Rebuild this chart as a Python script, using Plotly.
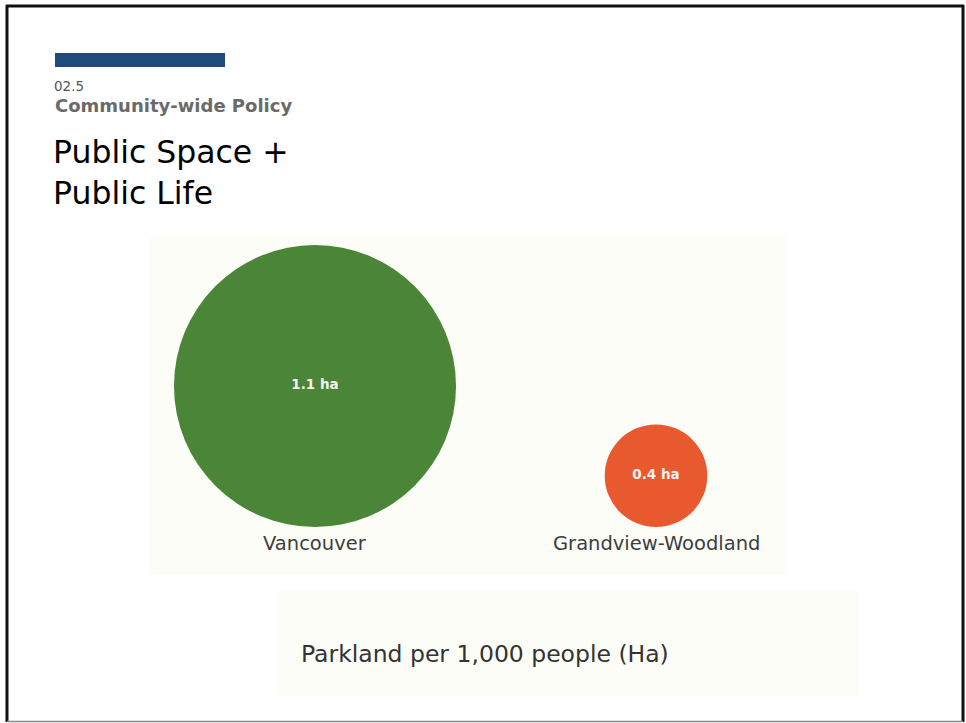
import plotly.graph_objects as go

# ---- data ----
places = ["Vancouver", "Grandview-Woodland"]
parkland_ha = [1.1, 0.4]
value_labels = ["1.1 ha", "0.4 ha"]
bubble_colors = ["#4b8538", "#e8592f"]

section_no = "02.5"
section_name = "Community-wide Policy"
title_lines = ["Public Space +", "Public Life"]
caption = "Parkland per 1,000 people (Ha)"

W, H = 966, 723
S = 256.4          # pixels of diameter per ha
BASE = 527         # pixel row of the bubble baseline
FONT = "DejaVu Sans"


def px(x):
    return x / W


def py(y):
    return 1 - y / H


fig = go.Figure()

fig.add_trace(go.Scatter(
    x=places,
    y=[v / 2 for v in parkland_ha],
    mode="markers+text",
    text=value_labels,
    textposition="middle center",
    textfont=dict(family=FONT, size=13.5, color="#f4f4ee", weight="bold"),
    marker=dict(size=[v * S for v in parkland_ha], sizemode="diameter",
                color=bubble_colors, line=dict(width=0), opacity=1),
    hoverinfo="skip",
    showlegend=False,
    cliponaxis=False,
))

for p in places:
    fig.add_annotation(x=p, y=0, xref="x", yref="y", text=p, showarrow=False,
                       yanchor="top", yshift=-3,
                       font=dict(family=FONT, size=19.5, color="#3d3d3d"))

shapes = [
    # chart background boxes
    dict(type="rect", xref="paper", yref="paper", x0=px(150), x1=px(785), y0=py(575), y1=py(235),
         fillcolor="#fdfdf8", line=dict(width=0), layer="below"),
    dict(type="rect", xref="paper", yref="paper", x0=px(279), x1=px(858), y0=py(696), y1=py(591),
         fillcolor="#fdfdf8", line=dict(width=0), layer="below"),
    # blue bar
    dict(type="rect", xref="paper", yref="paper", x0=px(55), x1=px(225), y0=py(67), y1=py(53),
         fillcolor="#204a7b", line=dict(width=0)),
    # frame
    dict(type="line", xref="paper", yref="paper", x0=px(6), x1=px(964), y0=py(6), y1=py(6),
         line=dict(color="#111111", width=3)),
    dict(type="line", xref="paper", yref="paper", x0=px(7), x1=px(7), y0=py(5), y1=py(722),
         line=dict(color="#111111", width=3)),
    dict(type="line", xref="paper", yref="paper", x0=px(963), x1=px(963), y0=py(5), y1=py(722),
         line=dict(color="#111111", width=3)),
    dict(type="line", xref="paper", yref="paper", x0=px(7), x1=px(963), y0=py(721.5), y1=py(721.5),
         line=dict(color="#888888", width=1.5)),
]

annotations = [
    dict(x=px(52), y=py(86), text=section_no,
         xanchor="left", yanchor="middle", font=dict(family=FONT, size=13.5, color="#555555")),
    dict(x=px(53), y=py(105), text=section_name,
         xanchor="left", yanchor="middle", font=dict(family=FONT, size=18, color="#6a6a6a", weight="bold")),
    dict(x=px(51), y=py(172), text="<br>".join(title_lines), align="left",
         xanchor="left", yanchor="middle", font=dict(family=FONT, size=31.5, color="#000000")),
    dict(x=px(485), y=py(654), text=caption,
         xanchor="center", yanchor="middle", font=dict(family=FONT, size=23.5, color="#333333")),
]

for a in annotations:
    fig.add_annotation(xref="paper", yref="paper", showarrow=False, **a)

fig.update_layout(
    width=W, height=H,
    margin=dict(l=0, r=0, t=0, b=0),
    paper_bgcolor="white", plot_bgcolor="rgba(0,0,0,0)",
    shapes=shapes,
    xaxis=dict(type="category", categoryorder="array", categoryarray=places,
               range=[-0.5, 1.5], domain=[144.5 / W, 826.5 / W],
               visible=False, fixedrange=True),
    yaxis=dict(range=[(BASE - H) / S, BASE / S], domain=[0, 1],
               visible=False, fixedrange=True),
)

fig.write_html("out.html", config={"displayModeBar": False},
               post_script="document.body.style.margin='0';document.body.style.overflow='hidden';")
